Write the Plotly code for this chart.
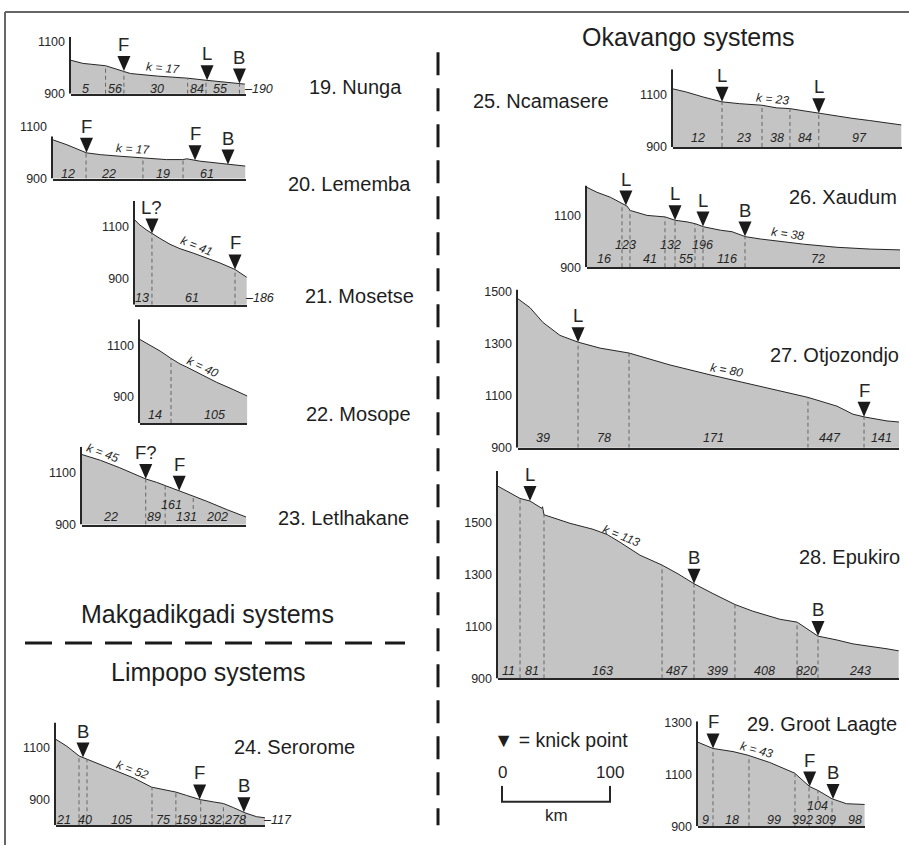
import numpy as np
import plotly.graph_objects as go

W, H = 909, 852
PX_PER_KM = 1.08
PX_PER_M = 0.263
INK = "#262626"
FILL = "#c4c4c4"
DASHC = "#666666"
FONT = "Liberation Sans, Arial, sans-serif"

# ---------------- data (km downstream, elevation m) ----------------
# 19. Nunga
nunga_km = [0, 11, 32, 41, 49, 55, 80, 108, 125, 145, 161]
nunga_elev = [1029, 1017, 1008, 997, 988, 978, 968, 960, 952, 944, 937]
nunga_dash = [32, 49, 108, 125, 156]
nunga_knick_km = [49, 126, 156]
nunga_knick = ["F", "L", "B"]
nunga_seg_km = [13, 41, 80, 117, 138]
nunga_seg_elev = [919, 919, 919, 919, 919]
nunga_seg = ["5", "56", "30", "84", "55"]

# 20. Lememba
lememba_km = [0, 13, 31, 44, 62, 83, 105, 120, 124, 136, 162, 178]
lememba_elev = [1049, 1030, 999, 992, 986, 980, 973, 973, 976, 967, 954, 948]
lememba_dash = [30.6, 83.3, 120.4]
lememba_knick_km = [31, 131.5, 162]
lememba_knick = ["F", "F", "B"]
lememba_seg_km = [14, 51, 102, 142.6]
lememba_seg_elev = [917, 917, 917, 917]
lememba_seg = ["12", "22", "19", "61"]

# 21. Mosetse
mosetse_km = [0, 4.6, 10.8, 15.4, 23, 32.4, 41.7, 54, 66.4, 78.7, 92.6, 103.4]
mosetse_elev = [1126, 1107, 1088, 1075, 1056, 1033, 1016, 999, 980, 961, 936, 906]
mosetse_dash = [15.7, 92.6]
mosetse_knick_km = [15.7, 92.6]
mosetse_knick = ["L?", "F"]
mosetse_seg_km = [6.5, 53]
mosetse_seg_elev = [827, 827]
mosetse_seg = ["13", "61"]

# 22. Mosope
mosope_km = [0, 9.3, 18.5, 28.4, 37, 43.2, 55.6, 71, 86.4, 99.4]
mosope_elev = [1122, 1100, 1078, 1050, 1028, 1016, 990, 957, 929, 904]
mosope_dash = [28.7]
mosope_knick_km = []
mosope_knick = []
mosope_seg_km = [14, 69]
mosope_seg_elev = [830, 830]
mosope_seg = ["14", "105"]

# 23. Letlhakane
letl_km = [0, 17, 35, 47.5, 59, 69, 77, 90, 103, 115.5, 134, 152]
letl_elev = [1170, 1148, 1119, 1098, 1076, 1063, 1051, 1030, 1009, 990, 958, 929]
letl_dash = [59, 77, 103]
letl_dash_lo = [900, 900, 960]
letl_knick_km = [59, 90]
letl_knick = ["F?", "F"]
letl_seg_km = [26, 67, 83, 97, 125]
letl_seg_elev = [930, 930, 976, 930, 930]
letl_seg = ["22", "89", "161", "131", "202"]

# 24. Serorome
sero_km = [0, 10, 21.5, 28.6, 41, 56, 71.6, 88.6, 99.4, 111, 121, 133.6, 146, 155,
           164.4, 175, 185.8, 193.5]
sero_elev = [1131, 1105, 1067, 1055, 1033, 1010, 983, 947, 937, 928, 915, 899, 890, 884,
             868, 848, 833, 829]
sero_dash = [21.3, 28.7, 88.9, 111, 134, 155, 175]
sero_knick_km = [25, 133, 174]
sero_knick = ["B", "F", "B"]
sero_seg_km = [6.5, 27, 61, 99, 121, 144, 166]
sero_seg_elev = [819, 819, 819, 819, 819, 819, 819]
sero_seg = ["21", "40", "105", "75", "159", "132", "278"]

# 25. Ncamasere
ncam_km = [0, 12.3, 27.7, 45.3, 61.7, 82.3, 95.6, 108, 120.3, 135.8, 151.2, 166.7, 182,
           197.5, 211.4]
ncam_elev = [1124, 1112, 1093, 1074, 1067, 1061, 1051, 1048, 1040, 1029, 1019, 1010, 1002,
             994, 985]
ncam_dash = [45.4, 82.4, 108.3, 135]
ncam_knick_km = [45.4, 135]
ncam_knick = ["L", "L"]
ncam_seg_km = [23, 65, 96, 122, 173]
ncam_seg_elev = [934, 934, 934, 934, 934]
ncam_seg = ["12", "23", "38", "84", "97"]

# 26. Xaudum
xau_km = [0, 9.3, 21.6, 32.4, 37, 40, 55.6, 72.5, 81.8, 92.6, 100.3, 108, 123.4, 134.3,
          146.6, 160.5, 179, 200.6, 231.5, 262.4, 290]
xau_elev = [1208, 1189, 1170, 1144, 1136, 1119, 1100, 1094, 1081, 1075, 1068, 1056, 1043,
            1037, 1018, 1009, 999, 989, 977, 970, 967]
xau_dash = [32.4, 39.8, 72.2, 81.5, 100, 107.4, 146.3]
xau_knick_km = [36, 81.5, 107.4, 146.3]
xau_knick = ["L", "L", "L", "B"]
xau_seg_km = [36, 77, 106.5, 15.7, 58, 91.7, 129.6, 214]
xau_seg_elev = [987, 987, 987, 930, 930, 930, 930, 930]
xau_seg = ["123", "132", "196", "16", "41", "55", "116", "72"]

# 27. Otjozondjo
otj_km = [0, 11.1, 23.1, 38.9, 55.6, 75.9, 102.8, 140.7, 177.8, 217.6, 249, 268.5, 295.4,
          310.2, 321.3, 341.7, 352.8]
otj_elev = [1474, 1440, 1383, 1333, 1307, 1284, 1265, 1219, 1181, 1143, 1113, 1094, 1060,
            1029, 1018, 1003, 999]
otj_dash = [55.6, 102.8, 268.5, 320.4]
otj_knick_km = [55.6, 320.4]
otj_knick = ["L", "F"]
otj_seg_km = [23, 79.6, 180.6, 289, 337]
otj_seg_elev = [938, 938, 938, 938, 938]
otj_seg = ["39", "78", "171", "447", "141"]

# 28. Epukiro
epu_km = [0, 20.4, 29.6, 40.5, 41.2, 42.6, 66.7, 88, 101, 113, 131.5, 151.9, 166.7, 181.5,
          199, 219.4, 236, 261, 276.9, 286, 296.3, 313.9, 328.7, 360.2, 371.3]
epu_elev = [1641, 1594, 1584, 1556, 1562, 1531, 1498, 1475, 1455, 1425, 1375, 1337, 1303,
            1265, 1227, 1185, 1159, 1128, 1117, 1090, 1063, 1048, 1033, 1014, 1006]
epu_dash = [20.4, 42.6, 151.9, 181.5, 219.4, 276.9, 296.3]
epu_knick_km = [29.6, 181.5, 296.3]
epu_knick = ["L", "B", "B"]
epu_seg_km = [9.3, 31.5, 97, 165.7, 202.8, 247, 286, 335]
epu_seg_elev = [927, 927, 927, 927, 927, 927, 927, 927]
epu_seg = ["11", "81", "163", "487", "399", "408", "820", "243"]

# 29. Groot Laagte
groot_km = [0, 13.9, 32.4, 46.3, 66.4, 81.9, 89.5, 97.2, 103.4, 111.1, 124.1, 137.4, 154.3]
groot_elev = [1224, 1200, 1188, 1174, 1146, 1117, 1105, 1076, 1053, 1038, 1006, 987, 984]
groot_dash = [13.9, 47.2, 89.8, 102.8, 111.1, 124.1]
groot_dash_lo = [900, 900, 900, 900, 1000, 900]
groot_knick_km = [13.9, 103.4, 125]
groot_knick = ["F", "F", "B"]
groot_seg_km = [7.4, 31.5, 70.4, 97.2, 117.6, 145.4, 111]
groot_seg_elev = [923, 923, 923, 923, 923, 923, 980]
groot_seg = ["9", "18", "99", "392", "309", "98", "104"]

titles = ["19. Nunga", "20. Lememba", "21. Mosetse", "22. Mosope", "23. Letlhakane",
          "24. Serorome", "25. Ncamasere", "26. Xaudum", "27. Otjozondjo", "28. Epukiro",
          "29. Groot Laagte"]
k_values = [17, 17, 41, 40, 45, 52, 23, 38, 80, 113, 43]
k_at_km = [85, 74, 57, 58, 19, 71, 91.7, 186, 192.6, 114.8, 54.6]
tails = ["190", None, "186", None, None, "117", None, None, None, None, None]
scale_km = [0, 100]

# ---------------- panel table (data + placement) ----------------
data = [
    (nunga_km, nunga_elev, nunga_dash, None, nunga_knick_km, nunga_knick, nunga_seg_km, nunga_seg_elev, nunga_seg),
    (lememba_km, lememba_elev, lememba_dash, None, lememba_knick_km, lememba_knick, lememba_seg_km, lememba_seg_elev, lememba_seg),
    (mosetse_km, mosetse_elev, mosetse_dash, None, mosetse_knick_km, mosetse_knick, mosetse_seg_km, mosetse_seg_elev, mosetse_seg),
    (mosope_km, mosope_elev, mosope_dash, None, mosope_knick_km, mosope_knick, mosope_seg_km, mosope_seg_elev, mosope_seg),
    (letl_km, letl_elev, letl_dash, letl_dash_lo, letl_knick_km, letl_knick, letl_seg_km, letl_seg_elev, letl_seg),
    (sero_km, sero_elev, sero_dash, None, sero_knick_km, sero_knick, sero_seg_km, sero_seg_elev, sero_seg),
    (ncam_km, ncam_elev, ncam_dash, None, ncam_knick_km, ncam_knick, ncam_seg_km, ncam_seg_elev, ncam_seg),
    (xau_km, xau_elev, xau_dash, None, xau_knick_km, xau_knick, xau_seg_km, xau_seg_elev, xau_seg),
    (otj_km, otj_elev, otj_dash, None, otj_knick_km, otj_knick, otj_seg_km, otj_seg_elev, otj_seg),
    (epu_km, epu_elev, epu_dash, None, epu_knick_km, epu_knick, epu_seg_km, epu_seg_elev, epu_seg),
    (groot_km, groot_elev, groot_dash, groot_dash_lo, groot_knick_km, groot_knick, groot_seg_km, groot_seg_elev, groot_seg),
]

# placement: axis origin px, baseline px, y range, axis-line top, x extent (km), ticks,
# title centre px, k-label angle
place = [
    dict(x0=71, yb=90, ymin=900, ymax=1120, top=1120, xmax=162, ticks=[900, 1100], t=(355, 83), ang=5),
    dict(x0=53, yb=176, ymin=900, ymax=1110, top=1062, xmax=179, ticks=[900, 1100], t=(349, 182), ang=3),
    dict(x0=135, yb=304, ymin=800, ymax=1200, top=1200, xmax=104, ticks=[900, 1100], t=(359, 295), ang=22),
    dict(x0=140, yb=424, ymin=800, ymax=1200, top=1200, xmax=99.4, ticks=[900, 1100], t=(358, 415), ang=25),
    dict(x0=82, yb=527, ymin=900, ymax=1200, top=1200, xmax=152, ticks=[900, 1100], t=(343, 520), ang=20),
    dict(x0=56, yb=832, ymin=800, ymax=1200, top=1195, xmax=193.5, ticks=[900, 1100], t=(294, 753), ang=20),
    dict(x0=673, yb=144, ymin=900, ymax=1200, top=1200, xmax=212, ticks=[900, 1100], t=(541, 97), ang=5),
    dict(x0=587, yb=266, ymin=900, ymax=1215, top=1215, xmax=290, ticks=[900, 1100], t=(843, 195), ang=8),
    dict(x0=518, yb=449, ymin=900, ymax=1510, top=1510, xmax=353, ticks=[900, 1100, 1300, 1500], t=(834, 355), ang=10),
    dict(x0=498, yb=683, ymin=900, ymax=1700, top=1700, xmax=371, ticks=[900, 1100, 1300, 1500], t=(849, 560), ang=22),
    dict(x0=698, yb=833, ymin=900, ymax=1305, top=1305, xmax=154.6, ticks=[900, 1100, 1300], t=(822, 729), ang=15),
]


def px(x):
    return x / W


def py(y):
    return 1 - y / H


def paper_text(txt, cx, cy, size):
    return dict(xref="paper", yref="paper", x=px(cx), y=py(cy), text=txt, showarrow=False,
                xanchor="center", yanchor="middle",
                font=dict(size=size, color="#1e1e1e", family=FONT))


fig = go.Figure()
axes = {}
shapes = []
ann = []

for i, (d, p) in enumerate(zip(data, place), start=1):
    km, elev, dash, dash_lo, kn_km, kn_lbl, s_km, s_el, s_txt = d
    xa, ya = ("x", "y") if i == 1 else (f"x{i}", f"y{i}")
    xk, yk = ("xaxis", "yaxis") if i == 1 else (f"xaxis{i}", f"yaxis{i}")
    dx = [px(p["x0"]), px(p["x0"] + p["xmax"] * PX_PER_KM)]
    dy = [py(p["yb"]), py(p["yb"] - (p["ymax"] - p["ymin"]) * PX_PER_M)]
    axes[xk] = dict(domain=dx, range=[0, p["xmax"]], anchor=ya, showline=True, linecolor=INK,
                    linewidth=2, showgrid=False, zeroline=False, showticklabels=False, ticks="")
    axes[yk] = dict(domain=dy, range=[p["ymin"], p["ymax"]], anchor=xa, showline=False,
                    showgrid=False, zeroline=False, tickvals=p["ticks"], ticks="",
                    ticklabelstandoff=5, tickfont=dict(size=12.5, color=INK, family=FONT))
    fig.add_trace(go.Scatter(x=km, y=elev, mode="lines", fill="tozeroy", fillcolor=FILL,
                             line=dict(color=INK, width=1), xaxis=xa, yaxis=ya,
                             hoverinfo="skip", showlegend=False))
    # y-axis line
    shapes.append(dict(type="line", xref="paper", yref=ya, x0=px(p["x0"] - 1), x1=px(p["x0"] - 1),
                       y0=p["ymin"], y1=p["top"], line=dict(color=INK, width=2)))
    # dashed section boundaries
    lows = dash_lo if dash_lo is not None else [p["ymin"]] * len(dash)
    for xd, lo in zip(dash, lows):
        shapes.append(dict(type="line", xref=xa, yref=ya, x0=xd, x1=xd, y0=lo,
                           y1=float(np.interp(xd, km, elev)),
                           line=dict(color=DASHC, width=1, dash="4px,3px")))
    # knick points
    for xkp, lbl in zip(kn_km, kn_lbl):
        tip = float(np.interp(xkp, km, elev))
        shapes.append(dict(type="path", xref=xa, yref=ya, xsizemode="pixel", ysizemode="pixel",
                           xanchor=xkp, yanchor=tip, path="M-6.5,15 L6.5,15 L0,0 Z",
                           fillcolor="#1a1a1a", line=dict(width=0)))
        ann.append(dict(xref=xa, yref=ya, x=xkp, y=tip, text=lbl, showarrow=False,
                        xanchor="center", yanchor="bottom", yshift=14,
                        font=dict(size=18.5, color=INK, family=FONT)))
    # segment labels
    for xs, ys, t in zip(s_km, s_el, s_txt):
        ann.append(dict(xref=xa, yref=ya, x=xs, y=ys, text=f"<i>{t}</i>", showarrow=False,
                        xanchor="center", yanchor="middle",
                        font=dict(size=12.5, color=INK, family=FONT)))
    if tails[i - 1]:
        ann.append(dict(xref=xa, yref=ya, x=p["xmax"], y=s_el[0], text=f"<i>–{tails[i - 1]}</i>",
                        showarrow=False, xanchor="left", yanchor="middle", xshift=-4,
                        font=dict(size=12.5, color=INK, family=FONT)))
    # k label
    kx = k_at_km[i - 1]
    ann.append(dict(xref=xa, yref=ya, x=kx, y=float(np.interp(kx, km, elev)),
                    text=f"<i>k = {k_values[i - 1]}</i>", showarrow=False, textangle=p["ang"],
                    xanchor="center", yanchor="middle", yshift=8,
                    font=dict(size=12, color=INK, family=FONT)))
    # title
    ann.append(paper_text(titles[i - 1], p["t"][0], p["t"][1], 20))

# scale bar on its own km axis
n = len(data) + 1
sx0, sx1, sytop, sybot = 502, 610, 792, 808
pad_km = 3
axes[f"xaxis{n}"] = dict(domain=[px(sx0 - pad_km * PX_PER_KM), px(sx1 + pad_km * PX_PER_KM)],
                         range=[scale_km[0] - pad_km, scale_km[1] + pad_km], anchor=f"y{n}",
                         visible=False)
axes[f"yaxis{n}"] = dict(domain=[py(sybot + 2), py(sytop)], range=[-0.12, 1], anchor=f"x{n}",
                         visible=False)
fig.add_trace(go.Scatter(x=[scale_km[0], scale_km[0], scale_km[1], scale_km[1]], y=[1, 0, 0, 1],
                         mode="lines", line=dict(color=INK, width=2), xaxis=f"x{n}",
                         yaxis=f"y{n}", hoverinfo="skip", showlegend=False))
for v in scale_km:
    ann.append(dict(xref=f"x{n}", yref=f"y{n}", x=v, y=1, text=str(v), showarrow=False,
                    xanchor="center", yanchor="bottom", yshift=2,
                    font=dict(size=17, color=INK, family=FONT)))
ann.append(dict(xref=f"x{n}", yref=f"y{n}", x=(scale_km[0] + scale_km[1]) / 2, y=0, text="km",
                showarrow=False, xanchor="center", yanchor="top", yshift=-2,
                font=dict(size=17, color=INK, family=FONT)))

# section headings and legend
ann.append(paper_text("Okavango systems", 688, 32, 25))
ann.append(paper_text("Makgadikgadi systems", 207, 618, 25))
ann.append(paper_text("Limpopo systems", 208, 677, 25))
ann.append(paper_text("▼ = knick point", 561, 745, 19.5))

# separators and frame
shapes += [
    dict(type="line", xref="paper", yref="paper", x0=px(438), x1=px(438), y0=py(48), y1=py(832),
         line=dict(color="#1a1a1a", width=3, dash="23px,13px")),
    dict(type="line", xref="paper", yref="paper", x0=px(25), x1=px(405), y0=py(647), y1=py(647),
         line=dict(color="#1a1a1a", width=3, dash="27px,13px")),
    dict(type="line", xref="paper", yref="paper", x0=px(5), x1=px(5), y0=py(7), y1=py(852),
         line=dict(color="#666", width=2)),
    dict(type="line", xref="paper", yref="paper", x0=px(5), x1=px(909), y0=py(7), y1=py(7),
         line=dict(color="#666", width=2)),
]

fig.update_layout(width=W, height=H, margin=dict(l=0, r=0, t=0, b=0), paper_bgcolor="white",
                  plot_bgcolor="rgba(0,0,0,0)", shapes=shapes, annotations=ann,
                  font=dict(family=FONT, color=INK), showlegend=False, **axes)
fig.write_html("out.html", config={"displayModeBar": False},
               post_script="document.body.style.margin='0px';document.body.style.overflow='hidden';")
